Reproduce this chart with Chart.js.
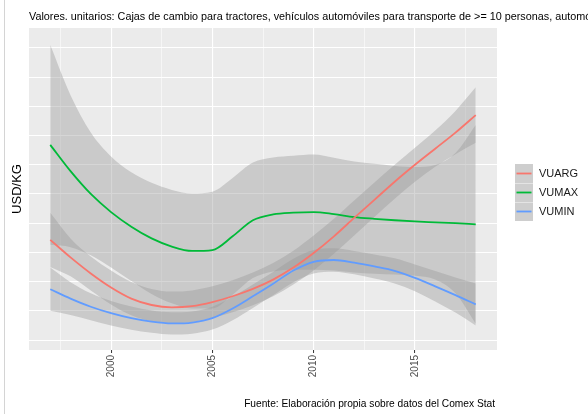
<!DOCTYPE html>
<html>
<head>
<meta charset="utf-8">
<script src="https://cdn.jsdelivr.net/npm/chart.js@4.4.1/dist/chart.umd.min.js"></script>
<style>
  html, body { margin: 0; padding: 0; background: #fff; }
  #wrap { position: relative; width: 588px; height: 414px; }
  #edge { position: absolute; left: 4px; top: 0; width: 1px; height: 414px; background: #d4d4d4; }
</style>
</head>
<body>
<div id="wrap">
  <canvas id="chart" width="588" height="414"></canvas>
  <div id="edge"></div>
</div>
<script>
const years = [1997, 1998, 1999, 2000, 2001, 2002, 2003, 2004, 2005, 2006, 2007,
               2008, 2009, 2010, 2011, 2012, 2013, 2014, 2015, 2016, 2017, 2018];

// smoothed unit values (USD/KG)
const vuarg = [3.43, 2.83, 2.28, 1.80, 1.42, 1.20, 1.12, 1.16, 1.30, 1.50, 1.75,
               2.07, 2.48, 2.98, 3.55, 4.18, 4.80, 5.42, 6.00, 6.55, 7.10, 7.70];
const vumax = [6.68, 5.78, 5.00, 4.38, 3.88, 3.48, 3.20, 3.05, 3.08, 3.55, 4.10,
               4.30, 4.36, 4.38, 4.31, 4.21, 4.15, 4.10, 4.06, 4.03, 4.00, 3.96];
const vumin = [1.74, 1.42, 1.14, 0.92, 0.75, 0.63, 0.57, 0.60, 0.75, 1.08, 1.50,
               1.93, 2.38, 2.68, 2.74, 2.65, 2.52, 2.37, 2.13, 1.84, 1.54, 1.22];

// half width of the confidence band around each smooth
const vuargCi = [0.93, 0.65, 0.58, 0.58, 0.57, 0.55, 0.54, 0.54, 0.54, 0.55, 0.56,
                 0.57, 0.58, 0.60, 0.60, 0.60, 0.59, 0.58, 0.58, 0.62, 0.74, 0.95];
const vumaxCi = [3.42, 2.60, 2.10, 1.90, 1.86, 1.90, 1.94, 1.97, 2.00, 2.00, 1.98,
                 1.95, 1.95, 1.97, 1.93, 1.90, 1.88, 1.86, 1.86, 1.96, 2.40, 3.40];
const vuminCi = [0.74, 0.56, 0.46, 0.42, 0.40, 0.38, 0.38, 0.38, 0.39, 0.40, 0.40,
                 0.40, 0.40, 0.40, 0.40, 0.40, 0.41, 0.43, 0.46, 0.52, 0.60, 0.72];

const xTicks = [1997.5, 2000, 2002.5, 2005, 2007.5, 2010, 2012.5, 2015, 2017.5];
const yTicks = [0, 1, 2, 3, 4, 5, 6, 7, 8, 9, 10];

const titleText = 'Valores. unitarios: Cajas de cambio para tractores, vehículos automóviles para transporte de >= 10 personas, automóviles de turismo';
const captionText = 'Fuente: Elaboración propia sobre datos del Comex Stat';
const yTitle = 'USD/KG';

const FONT = '"Liberation Sans", Arial, sans-serif';
const BAND = 'rgba(153,153,153,0.4)';

const series = [
  { label: 'VUARG', values: vuarg, ci: vuargCi, color: '#F8766D' },
  { label: 'VUMAX', values: vumax, ci: vumaxCi, color: '#00BA38' },
  { label: 'VUMIN', values: vumin, ci: vuminCi, color: '#619CFF' }
];

const smooth = { tension: 0.4, cubicInterpolationMode: 'monotone', pointRadius: 0 };

const datasets = [];
series.forEach(s => {
  datasets.push({
    ...smooth,
    label: s.label,
    data: years.map((yr, i) => ({ x: yr, y: s.values[i] })),
    borderColor: s.color,
    borderWidth: 1.8,
    fill: false,
    order: 0
  });
});
series.forEach(s => {
  const lowIdx = datasets.length;
  datasets.push({
    ...smooth,
    label: s.label + ' min',
    data: years.map((yr, i) => ({ x: yr, y: s.values[i] - s.ci[i] })),
    borderColor: 'transparent',
    borderWidth: 0,
    fill: false,
    order: 1
  });
  datasets.push({
    ...smooth,
    label: s.label + ' max',
    data: years.map((yr, i) => ({ x: yr, y: s.values[i] + s.ci[i] })),
    borderColor: 'transparent',
    borderWidth: 0,
    fill: lowIdx,
    backgroundColor: BAND,
    order: 1
  });
});

const decor = {
  id: 'decor',
  beforeDraw(chart) {
    const { ctx, chartArea: a } = chart;
    ctx.save();
    ctx.fillStyle = '#EBEBEB';
    ctx.fillRect(a.left, a.top, a.right - a.left, a.bottom - a.top);
    ctx.restore();
  },
  afterDraw(chart) {
    const { ctx, chartArea: a } = chart;
    ctx.save();
    ctx.fillStyle = '#000';
    ctx.textBaseline = 'middle';

    ctx.font = '10.8px ' + FONT;
    ctx.textAlign = 'left';
    ctx.fillText(titleText, a.left, 17);

    ctx.font = '10.2px ' + FONT;
    ctx.textAlign = 'right';
    ctx.fillText(captionText, a.right - 2, 404);

    ctx.save();
    ctx.translate(17, (a.top + a.bottom) / 2);
    ctx.rotate(-Math.PI / 2);
    ctx.textAlign = 'center';
    ctx.font = '13px ' + FONT;
    ctx.fillText(yTitle, 0, 0);
    ctx.restore();

    // legend keys
    const kx = 515, ky = 164, kw = 18, kh = 19;
    series.forEach((s, i) => {
      const y0 = ky + i * kh;
      ctx.fillStyle = '#F2F2F2';
      ctx.fillRect(kx, y0, kw, kh);
      ctx.fillStyle = BAND;
      ctx.fillRect(kx, y0, kw, kh);
      if (i > 0) {
        ctx.fillStyle = 'rgba(255,255,255,0.45)';
        ctx.fillRect(kx, y0, kw, 1);
      }
      ctx.strokeStyle = s.color;
      ctx.lineWidth = 1.8;
      ctx.beginPath();
      ctx.moveTo(kx + 1.5, y0 + kh / 2);
      ctx.lineTo(kx + kw - 1.5, y0 + kh / 2);
      ctx.stroke();
      ctx.fillStyle = '#1a1a1a';
      ctx.textAlign = 'left';
      ctx.font = '11px ' + FONT;
      ctx.fillText(s.label, 539, y0 + kh / 2 + 0.5);
    });
    ctx.restore();
  }
};

new Chart(document.getElementById('chart'), {
  type: 'line',
  data: { datasets },
  options: {
    responsive: false,
    animation: false,
    layout: { padding: { left: 29, top: 28, right: 91, bottom: 0 } },
    plugins: {
      legend: { display: false },
      tooltip: { enabled: false },
      filler: { propagate: false }
    },
    scales: {
      x: {
        type: 'linear',
        min: 1995.95,
        max: 2019.05,
        afterBuildTicks: s => { s.ticks = xTicks.map(v => ({ value: v })); },
        afterFit: s => { s.height = 64; },
        border: { display: false },
        grid: {
          color: '#FFFFFF',
          lineWidth: c => (c.tick && c.tick.value % 5 === 0 ? 1.1 : 0.55),
          tickLength: 3,
          tickWidth: 1,
          tickColor: c => (c.tick && c.tick.value % 5 === 0 ? '#333333' : 'rgba(0,0,0,0)')
        },
        ticks: {
          autoSkip: false,
          minRotation: 90,
          maxRotation: 90,
          padding: 2,
          color: '#4D4D4D',
          font: { family: FONT, size: 10 },
          callback: v => (v % 5 === 0 ? String(v) : '')
        }
      },
      y: {
        min: -0.34,
        max: 10.68,
        afterBuildTicks: s => { s.ticks = yTicks.map(v => ({ value: v })); },
        afterFit: s => { s.width = 0; },
        border: { display: false },
        grid: { color: '#FFFFFF', lineWidth: 1, drawTicks: false },
        ticks: { display: false }
      }
    }
  },
  plugins: [decor]
});
</script>
</body>
</html>
